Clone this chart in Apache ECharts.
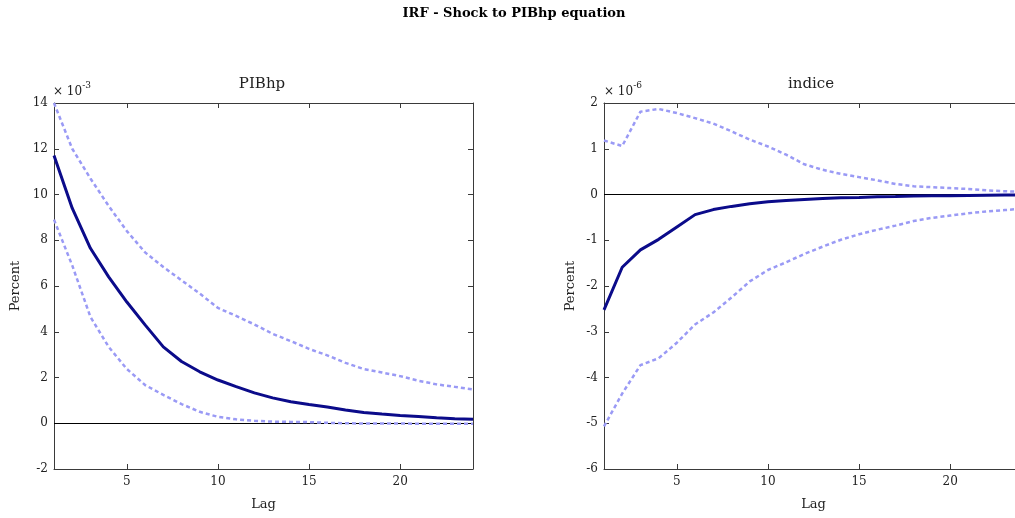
<!DOCTYPE html>
<html>
<head>
<meta charset="utf-8">
<script src="https://cdn.jsdelivr.net/npm/echarts@6/dist/echarts.min.js"></script>
<style>html,body{margin:0;padding:0;background:#fff}#c{width:1015px;height:518px}</style>
</head>
<body>
<div id="c"></div>
<script>
// Data (values in displayed units: PIBhp ×10^-3, indice ×10^-6)
const lags = [1,2,3,4,5,6,7,8,9,10,11,12,13,14,15,16,17,18,19,20,21,22,23,24];
const pibMean  = [11.7, 9.4, 7.65, 6.4, 5.3, 4.3, 3.34, 2.7, 2.25, 1.89, 1.6, 1.33, 1.11, 0.94, 0.82, 0.71, 0.58, 0.47, 0.4, 0.34, 0.3, 0.24, 0.2, 0.17];
const pibUpper = [14.0, 12.0, 10.7, 9.5, 8.4, 7.47, 6.83, 6.25, 5.67, 5.04, 4.69, 4.32, 3.91, 3.59, 3.25, 2.97, 2.64, 2.37, 2.22, 2.06, 1.86, 1.7, 1.59, 1.48];
const pibLower = [8.9, 6.9, 4.65, 3.34, 2.37, 1.67, 1.24, 0.84, 0.5, 0.28, 0.17, 0.11, 0.07, 0.06, 0.05, 0.02, 0.0, -0.01, -0.01, -0.01, -0.02, -0.02, -0.02, -0.02];
const indMean  = [-2.52, -1.59, -1.21, -0.98, -0.71, -0.44, -0.33, -0.26, -0.2, -0.16, -0.13, -0.11, -0.09, -0.07, -0.065, -0.05, -0.045, -0.035, -0.03, -0.025, -0.02, -0.015, -0.01, -0.01];
const indUpper = [1.18, 1.06, 1.81, 1.87, 1.78, 1.67, 1.55, 1.38, 1.2, 1.05, 0.87, 0.66, 0.54, 0.45, 0.38, 0.31, 0.23, 0.18, 0.16, 0.14, 0.12, 0.09, 0.07, 0.06];
const indLower = [-5.07, -4.35, -3.73, -3.58, -3.24, -2.84, -2.58, -2.25, -1.9, -1.65, -1.48, -1.3, -1.14, -0.99, -0.87, -0.77, -0.68, -0.58, -0.51, -0.46, -0.41, -0.37, -0.34, -0.31];
const xTicks = [5, 10, 15, 20];
const panelTitles = ['PIBhp', 'indice'];
const exponents = ['-3', '-6'];
const mainTitle = 'IRF - Shock to PIBhp equation';

const FONT = 'DejaVu Serif';
const frame = '#3a3a3a';
const txt = '#222';
const pair = a => lags.map((l, i) => [l, a[i]]);

function xAx(gi, pos) {
  return {
    type: 'value', gridIndex: gi, position: pos, min: 1, max: 24,
    axisLine: {show: true, onZero: false, lineStyle: {color: frame, width: 1}},
    axisTick: {show: true, inside: true, length: 5, customValues: xTicks, lineStyle: {color: frame}},
    axisLabel: {show: pos === 'bottom', customValues: xTicks, margin: 7, color: txt, fontFamily: FONT, fontSize: 12},
    splitLine: {show: false},
    name: pos === 'bottom' ? 'Lag' : '', nameLocation: 'middle', nameGap: 29,
    nameTextStyle: {fontFamily: FONT, fontSize: 13, color: txt}
  };
}
function yAx(gi, pos, min, max, interval, gap) {
  return {
    type: 'value', gridIndex: gi, position: pos, min, max, interval,
    axisLine: {show: true, onZero: false, lineStyle: {color: frame, width: 1}},
    axisTick: {show: true, inside: true, length: 5, lineStyle: {color: frame}},
    axisLabel: {show: pos === 'left', margin: 6, color: txt, fontFamily: FONT, fontSize: 12},
    splitLine: {show: false},
    name: pos === 'left' ? 'Percent' : '', nameLocation: 'middle', nameGap: gap, nameRotate: 90,
    nameTextStyle: {fontFamily: FONT, fontSize: 13, color: txt}
  };
}
const band = (xi, yi, d) => ({
  type: 'line', xAxisIndex: xi, yAxisIndex: yi, data: pair(d), symbol: 'none', silent: true,
  lineStyle: {color: '#9a9af5', width: 2.5, type: [4, 3]}, z: 3
});
const mean = (xi, yi, d) => ({
  type: 'line', xAxisIndex: xi, yAxisIndex: yi, data: pair(d), symbol: 'none', silent: true,
  lineStyle: {color: '#0b0b8a', width: 3}, z: 4,
  markLine: {silent: true, symbol: 'none', label: {show: false}, lineStyle: {color: '#000', width: 1, type: 'solid'}, data: [{yAxis: 0}], z: 2}
});
const expo = (x, e) => ({
  type: 'text', x: x, y: 80,
  style: {text: '{a|× 10}{b|' + e + '}', rich: {
    a: {fontFamily: FONT, fontSize: 12, fill: txt, padding: [6, 0, 0, 0]},
    b: {fontFamily: FONT, fontSize: 9, fill: txt, padding: [0, 0, 6, 0]}}}
});

const chart = echarts.init(document.getElementById('c'), null, {renderer: 'canvas'});
chart.setOption({
  animation: false,
  backgroundColor: '#fff',
  grid: [
    {left: 54, width: 419, top: 103, height: 366, outerBoundsMode: 'none', containLabel: false},
    {left: 604, width: 419, top: 103, height: 366, outerBoundsMode: 'none', containLabel: false}
  ],
  xAxis: [xAx(0, 'bottom'), xAx(0, 'top'), xAx(1, 'bottom'), xAx(1, 'top')],
  yAxis: [yAx(0, 'left', -2, 14, 2, 32), yAx(0, 'right', -2, 14, 2, 0), yAx(1, 'left', -6, 2, 1, 27), yAx(1, 'right', -6, 2, 1, 0)],
  series: [
    band(0, 0, pibUpper), band(0, 0, pibLower), mean(0, 0, pibMean),
    band(2, 2, indUpper), band(2, 2, indLower), mean(2, 2, indMean)
  ],
  graphic: [
    {type: 'text', x: 514, y: 14, style: {text: mainTitle, font: 'bold 13px "' + FONT + '"', fill: '#000', align: 'center', verticalAlign: 'middle'}},
    {type: 'text', x: 262, y: 84, style: {text: panelTitles[0], font: '15px "' + FONT + '"', fill: txt, align: 'center', verticalAlign: 'middle'}},
    {type: 'text', x: 811, y: 84, style: {text: panelTitles[1], font: '15px "' + FONT + '"', fill: txt, align: 'center', verticalAlign: 'middle'}},
    expo(53, exponents[0]),
    expo(604, exponents[1])
  ]
});
</script>
</body>
</html>
